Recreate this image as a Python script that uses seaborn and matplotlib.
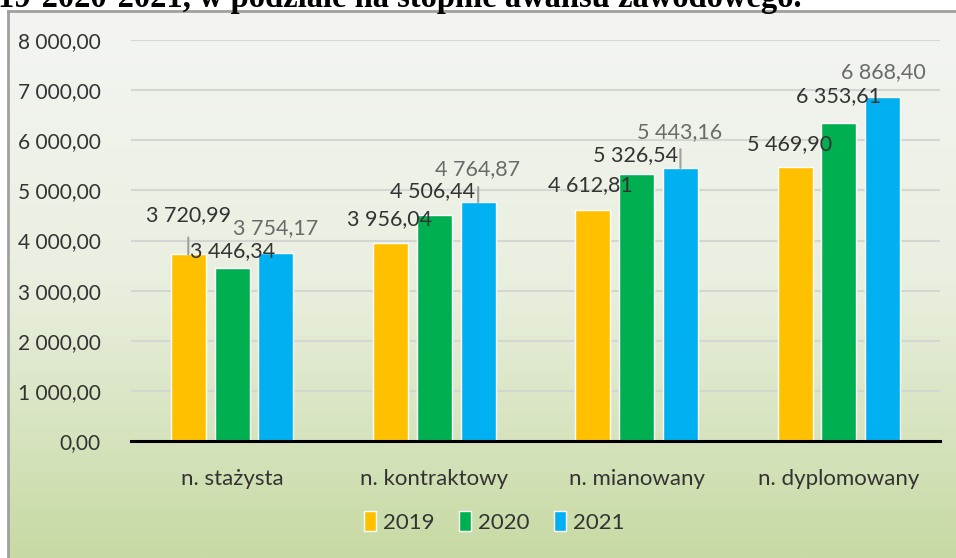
import numpy as np
import pandas as pd
import matplotlib
matplotlib.use("Agg")
import matplotlib.pyplot as plt
import matplotlib.colors as mcolors
import seaborn as sns

# data
stopnie = ["n. stażysta", "n. kontraktowy", "n. mianowany", "n. dyplomowany"]
lata = ["2019", "2020", "2021"]
v2019 = [3720.99, 3956.04, 4612.81, 5469.90]
v2020 = [3446.34, 4506.44, 5326.54, 6353.61]
v2021 = [3754.17, 4764.87, 5443.16, 6868.40]
y_ticks = [0, 1000, 2000, 3000, 4000, 5000, 6000, 7000, 8000]
kolory = ["#FFC000", "#00B050", "#00B0F0"]

rows = []
for rok, vals in zip(lata, [v2019, v2020, v2021]):
    for s, v in zip(stopnie, vals):
        rows.append({"stopien": s, "rok": rok, "wartosc": v})
df = pd.DataFrame(rows)

def fmt(v):
    s = f"{v:,.2f}"
    return s.replace(",", " ").replace(".", ",")

sns.set_style("white")
plt.rcParams["font.family"] = ["Lato", "DejaVu Sans"]

W, H = 956, 558
fig = plt.figure(figsize=(W / 100, H / 100), dpi=100)
fig.patch.set_facecolor("white")

# cut-off title line at the very top
fig.text(-2 / W, 1 - 7 / H, "19-2020-2021, w podziale na stopnie awansu zawodowego.",
         fontfamily="Liberation Serif", fontweight="bold", fontsize=23.5,
         va="baseline", ha="left", color="black")

# chart frame with gradient
bg = fig.add_axes([8 / W, 0, 1 - 8 / W, (H - 11) / H])
grad = mcolors.LinearSegmentedColormap.from_list("g", ["#F4F5F3", "#E9EFDF", "#C7DAA3"])
bg.imshow(np.linspace(0, 1, 256).reshape(-1, 1), cmap=grad, aspect="auto",
          extent=[0, 1, 0, 1], origin="upper")
bg.set_xticks([])
bg.set_yticks([])
for side in ["right", "bottom"]:
    bg.spines[side].set_visible(False)
for side in ["left", "top"]:
    bg.spines[side].set_color("#A0A0A0")
    bg.spines[side].set_linewidth(2)

ax = fig.add_axes([131 / W, (H - 441) / H, 809 / W, 401 / H])
ax.set_facecolor("none")
sns.barplot(data=df, x="stopien", y="wartosc", hue="rok", palette=kolory,
            width=0.65, gap=0.2, ax=ax, saturation=1, errorbar=None)

ax.set_ylim(0, 8000)
ax.set_yticks(y_ticks)
ax.set_yticklabels([fmt(t) for t in y_ticks], fontsize=15, color="#333333")
ax.tick_params(axis="x", labelsize=16, colors="#333333", pad=20, length=0)
ax.tick_params(axis="y", length=0, pad=22)
ax.set_xlabel("")
ax.set_ylabel("")
ax.yaxis.grid(True, color="#D4D6D2", linewidth=1.5)
ax.set_axisbelow(True)
for side in ["left", "right", "top"]:
    ax.spines[side].set_visible(False)
ax.spines["bottom"].set_color("black")
ax.spines["bottom"].set_linewidth(2.2)
ax.spines["bottom"].set_zorder(5)

# data labels (offsets in pixels from the bar top, as placed in the original)
offsets = [
    [(0, 39), (-1, 24), (-2, 25), (-5, 23)],
    [(0, 17), (-2, 24), (-1, 19), (0, 26)],
    [(0, 25), (-1, 33), (-1, 36), (1, 25)],
]
leaders = {(0, 0): 17, (2, 1): 15, (2, 2): 19}
lab_col = ["#333333", "#333333", "#6A6A6A"]
for i, cont in enumerate(ax.containers):
    for j, bar in enumerate(cont):
        x = bar.get_x() + bar.get_width() / 2
        v = bar.get_height()
        dx, dy = offsets[i][j]
        ax.annotate(fmt(v), xy=(x, v), xytext=(dx, dy), textcoords="offset pixels",
                    ha="center", va="center", fontsize=15.5, color=lab_col[i])
        if (i, j) in leaders:
            ax.annotate("", xy=(x, v), xytext=(0, leaders[(i, j)]),
                        textcoords="offset pixels",
                        arrowprops=dict(arrowstyle="-", color="#A0A0A0", lw=1.5,
                                        shrinkA=0, shrinkB=0))

handles, labels = ax.get_legend_handles_labels()
ax.get_legend().remove()
fig.legend(handles, labels, loc="center", bbox_to_anchor=(494 / W, 1 - 522 / H),
           ncol=3, frameon=False, fontsize=16, handlelength=0.55, handleheight=1.0,
           handletextpad=0.3, columnspacing=1.1, labelcolor="#333333")

fig.savefig("out.png", dpi=100)
